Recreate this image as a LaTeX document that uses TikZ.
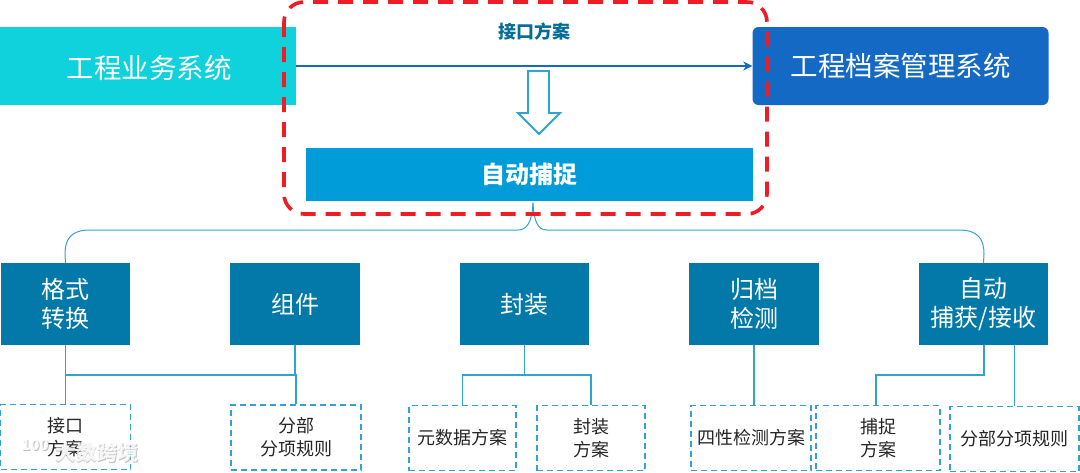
\documentclass[tikz,border=0pt]{standalone}
\usepackage{fontspec}
\setmainfont{Noto Sans CJK SC}
\usetikzlibrary{arrows.meta}
\definecolor{bizcyan}{HTML}{0FD2DC}
\definecolor{archblue}{HTML}{1469C4}
\definecolor{capblue}{HTML}{009CD9}
\definecolor{teal}{HTML}{0279A8}
\definecolor{linkblue}{HTML}{2FA3D2}
\definecolor{markred}{HTML}{EE1C25}
\tikzset{
  sysbox/.style={draw=none, text=white, minimum width=296pt, minimum height=78pt, inner sep=0pt, font=\fontsize{27.5}{32}\selectfont},
  topbox/.style={fill=teal, text=white, minimum width=129.5pt, minimum height=82pt, inner sep=0pt, align=center, font=\fontsize{24}{29}\selectfont},
  subbox/.style={draw=linkblue, line width=1.2pt, dash pattern=on 6pt off 4pt, fill=white, text=black!85, inner sep=0pt, minimum height=65pt, align=center, font=\fontsize{18}{23}\selectfont},
  link/.style={draw=linkblue, line width=1.2pt},
  brace/.style={draw=linkblue, line width=1pt},
  wmark/.style={font=\fontsize{21}{25}\selectfont\bfseries, inner sep=0pt},
  wlogomark/.style={font=\fontsize{15}{17}\selectfont\bfseries, inner sep=0pt}
}
\begin{document}
\begin{tikzpicture}[x=1pt, y=-1pt]
    \useasboundingbox (0,0) rectangle (1080,472);

    % Systems at the top
    \node[sysbox, fill=bizcyan, text depth=0pt] (biz) at (148,66) {\raisebox{-1pt}{\hspace*{2pt}工程业务系统}};
    \node[sysbox, fill=archblue, rounded corners=6pt] (arch) at (900.5,66) {\raisebox{-1pt}{工程档案管理系统}};
    \draw[-{Stealth[length=9pt,width=9pt]}, archblue, line width=1.6pt] (biz.east) -- (arch.west);
    \node[text=teal!90!black, font=\fontsize{18}{22}\selectfont\bfseries] (plan) at (534,32) {接口方案};

    % Hollow arrow
    \draw[draw=linkblue, line width=1.8pt, fill=white] (528,71) -- (549,71) -- (549,113) -- (560,113) -- (539,134) -- (518,113) -- (528,113) -- cycle;

    % Capture bar
    \node[fill=capblue, text=white, minimum width=447pt, minimum height=53pt, inner sep=0pt, font=\fontsize{24}{29}\selectfont\bfseries] (capture) at (529.5,174.5) {自动捕捉};

    % Sections
    \node[topbox] (fmt) at (65.5,304) {\raisebox{-1pt}{格式}\\\raisebox{-1pt}{转换}};
    \node[topbox] (comp) at (295,304) {组件};
    \node[topbox] (pack) at (524.5,304) {封装};
    \node[topbox] (check) at (754,304) {\raisebox{-1pt}{归档}\\\raisebox{-1pt}{检测}};
    \node[topbox] (auto) at (983.5,304) {\raisebox{-1pt}{自动}\\\raisebox{-1pt}{捕获/接收}};

    % Brace
    \coordinate (tip) at (533,203);
    \draw[brace] (fmt.north) -- (65,254) .. controls (65,238) and (72,230) .. (90,230) -- (518,230) .. controls (527,230) and (532,222) .. (tip);
    \draw[brace] (auto.north) -- (984,254) .. controls (984,238) and (977,230) .. (959,230) -- (547,230) .. controls (538,230) and (534,222) .. (tip);

    % Plans
    \node[subbox, minimum width=130pt] (p1) at (65.5,437) {\raisebox{-1pt}{接口}\\\raisebox{-1pt}{方案}};
    \node[subbox, minimum width=130pt] (p2) at (296,437.5) {\raisebox{-1pt}{分部}\\\raisebox{-1pt}{分项规则}};
    \node[subbox, minimum width=107pt] (p3) at (462.5,438) {元数据方案};
    \node[subbox, minimum width=108pt] (p4) at (591,438) {\raisebox{-1pt}{封装}\\\raisebox{-1pt}{方案}};
    \node[subbox, minimum width=120pt] (p5) at (751,438) {四性检测方案};
    \node[subbox, minimum width=124pt] (p6) at (878,438) {\raisebox{-1pt}{捕捉}\\\raisebox{-1pt}{方案}};
    \node[subbox, minimum width=129pt] (p7) at (1014.5,439) {分部分项规则};

    % Connectors
    \draw[link] (fmt.south) -- (p1.north);
    \draw[link] (comp.south) -- (295,375);
    \draw[link] (65.5,375) -- (296,375) -- (p2.north);
    \draw[link] (pack.south) -- (524.5,375);
    \draw[link] (p3.north) -- (462.5,375) -- (591,375) -- (p4.north);
    \draw[link] (check.south) -- (check.south |- p5.north);
    \draw[link] (984,345) -- (984,375) -- (876,375) -- (876,405.5);
    \draw[link] (1014.5,345) -- (p7.north);

    % Red frame
    \draw[markred, line width=3.6pt, dash pattern=on 15pt off 10pt, rounded corners=20pt] (284,2) rectangle (767,214);

    % Watermark
    \node[wmark, text=black!40, opacity=0.6] (wshadow) at (98,453) {大数跨境};
    \node[wmark, text=white, opacity=0.85] (wtext) at (97,452) {大数跨境};
    \node[wlogomark, text=black!40, opacity=0.6] (wlogoshadow) at (36,446) {100};
    \node[wlogomark, text=white, opacity=0.9] (wlogo) at (35,445) {100};
\end{tikzpicture}
\end{document}
